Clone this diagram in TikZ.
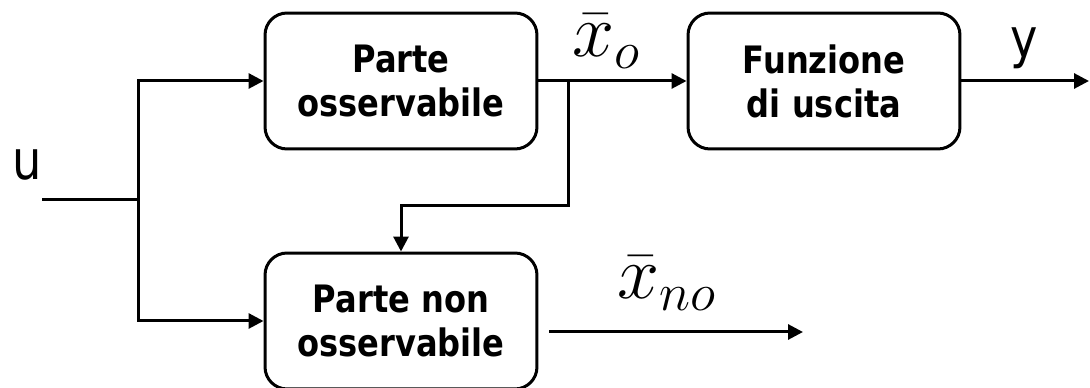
\RequirePackage{fix-cm}
\documentclass[tikz,border=0pt]{standalone}
\usepackage{fontspec}
\usetikzlibrary{arrows.meta}
\newfontfamily\boxfont{DejaVu Sans}[FakeStretch=0.85]

\begin{document}
\begin{tikzpicture}[
    x=0.02cm,y=-0.02cm,
    every node/.style={align=center,inner sep=0pt},
    block/.style={draw,line width=0.06cm,rounded corners=0.44cm,minimum width=5.44cm,minimum height=2.72cm,font=\boxfont\bfseries\fontsize{21.5}{25}\selectfont},
    sig/.style={font=\boxfont\fontsize{31}{36}\selectfont},
    state/.style={font=\fontsize{43}{50}\selectfont},
    wire/.style={line width=0.06cm},
    flow/.style={-{Triangle[length=0.3cm,width=0.3cm]},line width=0.06cm}
]
\useasboundingbox (0,0) rectangle (1090,388);
\node[block] (obs) at (401,81) {Parte\\osservabile};
\node[block] (out) at (824,81) {Funzione\\di uscita};
\node[block] (nobs) at (401,321) {Parte non\\osservabile};
\coordinate (uin) at (42,200);
\coordinate (split) at (138,200);
\coordinate (tap) at (568,81);
\coordinate (bend) at (568,206);
\coordinate (yend) at (1089,81);
\coordinate (xnoend) at (803,332);
\draw[wire] (uin) -- (split);
\draw[flow] (split) |- (obs.west);
\draw[flow] (split) |- (nobs.west);
\draw[flow] (obs.east) -- (out.west);
\draw[flow] (tap) -- (bend) -| (nobs.north);
\draw[flow] (out.east) -- (yend);
\draw[flow] ([shift={(11,11)}]nobs.east) -- (xnoend);
% signal names
\node[sig,anchor=base] (ulab) at (27,180) {u};
\node[sig,anchor=base] (ylab) at (1024,58) {y};
\node[state,anchor=base west] (xolab) at (572,57) {$\bar{x}_{o}$};
\node[state,anchor=base west] (xnolab) at (617,299) {$\bar{x}_{no}$};
\end{tikzpicture}
\end{document}
